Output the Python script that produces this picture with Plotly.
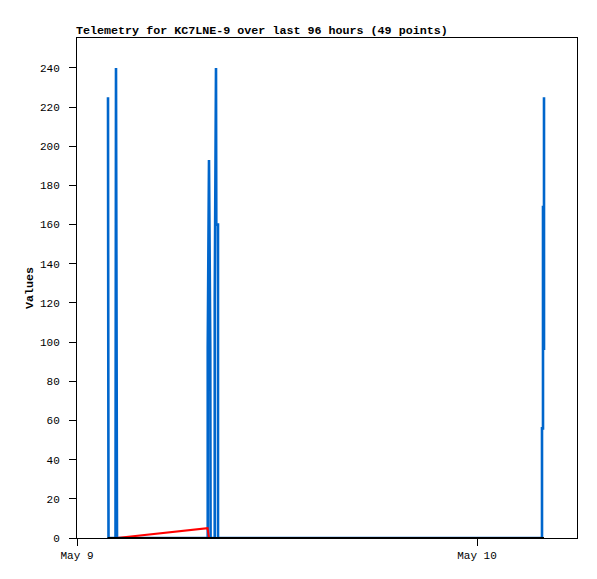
import plotly.graph_objects as go

# ---- data ----
blue_times = [
    "2024-05-09 01:51:36", "2024-05-09 01:53:24", "2024-05-09 02:18:36", "2024-05-09 02:20:24",
    "2024-05-09 02:24:00", "2024-05-09 07:50:36", "2024-05-09 07:50:37", "2024-05-09 07:55:12",
    "2024-05-09 07:59:48", "2024-05-09 08:00:53", "2024-05-09 08:15:48", "2024-05-09 08:15:49",
    "2024-05-09 08:20:24", "2024-05-09 08:21:29", "2024-05-09 08:27:36", "2024-05-09 08:27:37",
    "2024-05-10 03:54:00", "2024-05-10 03:54:01", "2024-05-10 03:57:36", "2024-05-10 03:57:37",
    "2024-05-10 04:01:12", "2024-05-10 04:01:13", "2024-05-10 04:01:14",
]
blue_values = [225, 0, 0, 240, 0, 0, 97, 193, 97, 0, 0, 121, 240, 160, 160, 0,
               0, 56, 56, 169, 169, 225, 96]

red_times = ["2024-05-09 01:51:36", "2024-05-09 02:24:00", "2024-05-09 07:50:00",
             "2024-05-09 07:55:12", "2024-05-10 04:01:14"]
red_values = [0, 0, 5, 0, 0]

black_times = ["2024-05-09 01:50:00", "2024-05-10 04:01:14"]
black_values = [0, 0]

x_tick_vals = ["2024-05-09 00:00", "2024-05-10 00:00"]
x_tick_text = ["May 9", "May 10"]
y_tick_vals = list(range(0, 241, 20))

title_text = "Telemetry for KC7LNE-9 over last 96 hours (49 points)"

FONT = "Liberation Mono"

fig = go.Figure()
fig.add_trace(go.Scatter(x=blue_times, y=blue_values, mode="lines",
                         line=dict(color="#0066CC", width=2.6), showlegend=False))
fig.add_trace(go.Scatter(x=red_times, y=red_values, mode="lines",
                         line=dict(color="#FF0000", width=2), showlegend=False))
fig.add_trace(go.Scatter(x=black_times, y=black_values, mode="lines",
                         line=dict(color="#000000", width=2.2), showlegend=False))

fig.update_layout(
    width=589, height=571,
    margin=dict(l=69, r=20, t=30, b=41),
    paper_bgcolor="white", plot_bgcolor="white",
    font=dict(family=FONT, size=11, color="black"),
    showlegend=False,
    annotations=[dict(text="<b>" + title_text + "</b>", xref="paper", yref="paper",
                      x=0, y=1, xanchor="left", yanchor="bottom", xshift=-3, yshift=-2,
                      showarrow=False, font=dict(family=FONT, size=11.7, color="black"))],
)
fig.update_xaxes(
    type="date", range=["2024-05-09 00:00", "2024-05-10 06:00"],
    tickvals=x_tick_vals, ticktext=x_tick_text,
    showgrid=False, zeroline=False,
    showline=True, linecolor="black", linewidth=1, mirror=True,
    ticks="outside", ticklen=7, tickcolor="black", tickwidth=1,
)
fig.update_yaxes(
    range=[0, 255.3], tickvals=y_tick_vals,
    showgrid=False, zeroline=False,
    showline=True, linecolor="black", linewidth=1, mirror=True,
    ticks="outside", ticklen=7, tickcolor="black", tickwidth=1,
    ticklabelstandoff=7,
    title=dict(text="<b>Values</b>", font=dict(family=FONT, size=11.7), standoff=3),
)

fig.write_html("out.html")
